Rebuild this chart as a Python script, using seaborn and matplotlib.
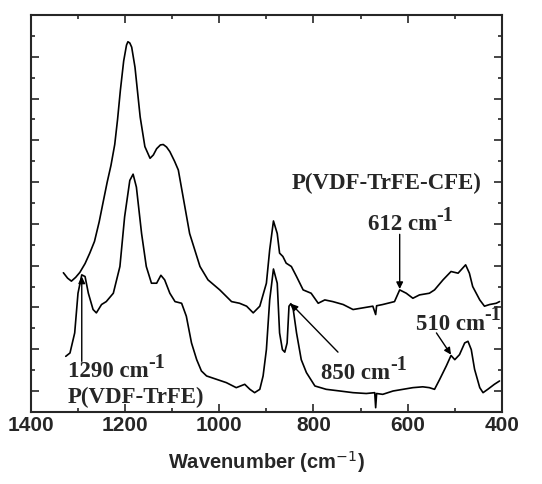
import pandas as pd
import matplotlib.pyplot as plt
import seaborn as sns

# FTIR spectra (wavenumber in cm-1, absorbance in arbitrary units, offset)
wn_cfe = [1331, 1322, 1314, 1305, 1296, 1285, 1275, 1265, 1255, 1247, 1238, 1230, 1222,
          1216, 1210, 1203, 1197, 1194, 1190, 1186, 1179, 1168, 1158, 1147, 1140, 1133,
          1125, 1119, 1112, 1105, 1095, 1087, 1063, 1041, 1024, 999, 974, 957, 942, 928,
          914, 900, 893, 885, 877, 872, 865, 858, 847, 836, 822, 805, 790, 776, 759, 737,
          716, 695, 674, 668, 666, 653, 628, 617, 603, 589, 575, 554, 543, 525, 508, 493,
          477, 469, 462, 447, 437, 426, 412, 405]
abs_cfe = [2.83, 2.70, 2.63, 2.72, 2.84, 3.05, 3.30, 3.58, 4.05, 4.50, 5.00, 5.40, 5.90,
           6.50, 7.20, 7.90, 8.28, 8.36, 8.33, 8.23, 7.75, 6.56, 5.85, 5.57, 5.65, 5.80,
           5.89, 5.90, 5.84, 5.73, 5.50, 5.29, 3.77, 2.98, 2.66, 2.42, 2.14, 2.10, 2.03, 1.87,
           2.03, 2.58, 3.38, 4.07, 3.77, 3.30, 3.22, 3.06, 2.98, 2.74, 2.42, 2.34, 2.10, 2.18,
           2.14, 2.07, 1.95, 1.99, 2.03, 1.83, 2.04, 2.07, 2.14, 2.42, 2.34, 2.22, 2.30, 2.34,
           2.42, 2.66, 2.86, 2.82, 3.02, 2.82, 2.50, 2.18, 2.03, 2.07, 2.10, 2.14]

wn_trfe = [1326, 1317, 1307, 1300, 1292, 1285, 1278, 1268, 1261, 1250, 1240, 1225, 1211,
           1201, 1190, 1183, 1176, 1165, 1155, 1144, 1133, 1124, 1116, 1105, 1094, 1080,
           1070, 1059, 1048, 1038, 1027, 1006, 985, 964, 946, 935, 925, 914, 907, 900, 893,
           885, 877, 872, 866, 861, 856, 852, 848, 843, 836, 826, 815, 797, 773, 744, 716,
           688, 670, 668, 666, 653, 631, 610, 589, 568, 554, 543, 532, 518, 508, 500, 490,
           479, 472, 465, 458, 447, 440, 430, 416, 405]
abs_trfe = [0.83, 0.91, 1.39, 2.34, 2.78, 2.74, 2.34, 1.95, 1.87, 2.07, 2.14, 2.34, 2.98,
            4.17, 5.04, 5.19, 4.88, 3.77, 2.98, 2.58, 2.58, 2.77, 2.66, 2.34, 2.14, 2.10,
            1.79, 1.15, 0.75, 0.48, 0.36, 0.28, 0.20, 0.08, 0.16, 0.04, -0.04, 0.04, 0.36,
            0.99, 2.18, 2.92, 2.58, 1.39, 0.99, 0.93, 1.15, 2.03, 2.09, 1.95, 1.39, 0.75,
            0.44, 0.12, 0.04, 0.00, -0.04, -0.06, -0.04, -0.40, -0.06, -0.08, 0.00, 0.04,
            0.08, 0.10, 0.08, 0.04, 0.28, 0.60, 0.85, 0.75, 0.87, 1.15, 1.19, 0.99, 0.52,
            0.08, -0.04, 0.04, 0.16, 0.24]

# peak labels: text, superscript, left x, baseline y
label_text = ["P(VDF-TrFE-CFE)", "612 cm", "1290 cm", "P(VDF-TrFE)", "850 cm", "510 cm"]
label_sup = ["", "-1", "-1", "", "-1", "-1"]
label_x = [847, 684, 1321, 1321, 783, 582]
label_y = [4.83, 3.85, 0.33, -0.28, 0.28, 1.47]

# arrows: tail -> tip
arrow_from = [(617, 3.75), (1292, 0.71), (748, 0.93), (539, 1.39)]
arrow_to = [(617, 2.44), (1292, 2.74), (848, 2.09), (508, 0.87)]

df_cfe = pd.DataFrame({"wn": wn_cfe, "A": abs_cfe})
df_trfe = pd.DataFrame({"wn": wn_trfe, "A": abs_trfe})

sns.set_style("ticks")
fig = plt.figure(figsize=(5.42, 4.84), dpi=100)
ax = fig.add_axes([0.057, 0.149, 0.869, 0.82])

sns.lineplot(data=df_cfe, x="wn", y="A", color="black", lw=1.2, estimator=None, ax=ax)
sns.lineplot(data=df_trfe, x="wn", y="A", color="black", lw=1.2, estimator=None, ax=ax)

ax.set_xlim(1400, 400)
ax.set_ylim(-0.5, 9.0)
ax.set_xticks([1400, 1200, 1000, 800, 600, 400])
ax.set_xticks([1300, 1100, 900, 700, 500], minor=True)
ax.set_yticks(range(0, 9))
ax.set_yticks([k + 0.5 for k in range(-1, 9)], minor=True)
ax.set_yticklabels([])
ax.tick_params(which="both", direction="in", top=True, right=True, width=1.2)
ax.tick_params(which="major", length=5.5, pad=3)
ax.tick_params(which="minor", length=3)
for lab in ax.get_xticklabels():
    lab.set_fontfamily("Liberation Sans")
    lab.set_fontweight("bold")
    lab.set_fontsize(15)
for sp in ax.spines.values():
    sp.set_linewidth(1.5)

ax.set_xlabel(r"Wavenumber (cm$^{-1}$)", fontfamily="Liberation Sans", fontweight="bold",
              fontsize=14.5, labelpad=10, math_fontfamily="dejavusans")
ax.set_ylabel("")

for t, s, x, y in zip(label_text, label_sup, label_x, label_y):
    txt = ax.text(x, y, t, ha="left", va="baseline", fontfamily="Liberation Serif",
                  fontweight="bold", fontsize=16.5, clip_on=False)
    if s:
        ax.annotate(s, xy=(1, 0), xycoords=txt, xytext=(-0.5, 10.5),
                    textcoords="offset points", ha="left", va="baseline",
                    fontfamily="Liberation Serif", fontweight="bold", fontsize=14.5,
                    annotation_clip=False)

for (x0, y0), (x1, y1) in zip(arrow_from, arrow_to):
    ax.annotate("", xy=(x1, y1), xytext=(x0, y0),
                arrowprops=dict(arrowstyle="-|>", color="black", lw=1.0,
                                mutation_scale=10, shrinkA=0, shrinkB=0))

fig.savefig("out.png", dpi=100)
